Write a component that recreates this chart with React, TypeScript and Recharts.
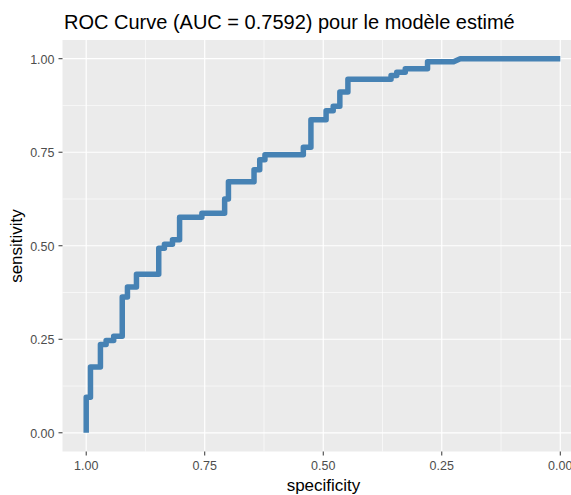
import { LineChart, Line, XAxis, YAxis, CartesianGrid } from 'recharts';

// ROC curve points (specificity, sensitivity), in drawing order
const specificity = [
  1.0, 1.0, 0.991, 0.991, 0.97, 0.97, 0.958, 0.958, 0.942, 0.942, 0.924, 0.924,
  0.913, 0.913, 0.894, 0.894, 0.847, 0.847, 0.835, 0.835, 0.818, 0.818, 0.803,
  0.803, 0.756, 0.756, 0.708, 0.708, 0.7, 0.7, 0.646, 0.646, 0.634, 0.634, 0.623,
  0.623, 0.542, 0.542, 0.526, 0.526, 0.494, 0.494, 0.479, 0.479, 0.465, 0.465,
  0.448, 0.448, 0.357, 0.357, 0.345, 0.345, 0.327, 0.327, 0.28, 0.28, 0.225,
  0.211, 0.0,
];
const sensitivity = [
  0.0, 0.095, 0.095, 0.176, 0.176, 0.236, 0.236, 0.247, 0.247, 0.258, 0.258, 0.363,
  0.363, 0.39, 0.39, 0.424, 0.424, 0.493, 0.493, 0.504, 0.504, 0.516, 0.516,
  0.576, 0.576, 0.587, 0.587, 0.625, 0.625, 0.671, 0.671, 0.703, 0.703, 0.73, 0.73,
  0.743, 0.743, 0.763, 0.763, 0.837, 0.837, 0.861, 0.861, 0.873, 0.873, 0.911,
  0.911, 0.945, 0.945, 0.955, 0.955, 0.964, 0.964, 0.973, 0.973, 0.992, 0.992,
  1.0, 1.0,
];

const xTicks = [1, 0.75, 0.5, 0.25, 0];
const yTicks = [0, 0.25, 0.5, 0.75, 1];
const minorTicks = [0.125, 0.375, 0.625, 0.875];

const title = 'ROC Curve (AUC = 0.7592) pour le modèle estimé';
const xTitle = 'specificity';
const yTitle = 'sensitivity';

const FONT = '"Liberation Sans", Arial, sans-serif';

const data = specificity.map((s, i) => ({ specificity: s, sensitivity: sensitivity[i] }));

const fmt = (v: number) => v.toFixed(2);

function XTick(props: any) {
  const { x, y, payload } = props;
  return (
    <text x={x} y={y} dy={12} textAnchor="middle" fill="#4D4D4D" fontSize={12.5} fontFamily={FONT}>
      {fmt(payload.value)}
    </text>
  );
}

function YTick(props: any) {
  const { x, y, payload } = props;
  return (
    <text x={x} y={y} dy={5} textAnchor="end" fill="#4D4D4D" fontSize={12.5} fontFamily={FONT}>
      {fmt(payload.value)}
    </text>
  );
}

export default function App() {
  return (
    <div style={{ position: 'absolute', left: 0, top: 0, width: 571, height: 495, overflow: 'hidden', background: '#fff' }}>
      <svg width={571} height={36} style={{ position: 'absolute', left: 0, top: 0 }}>
        <text x={64} y={29.3} fontSize={20} fontFamily={FONT} fill="#000">
          {title}
        </text>
      </svg>
      <div style={{ position: 'absolute', left: 0, top: 0 }}>
        <LineChart
          width={600}
          height={495}
          data={data}
          margin={{ top: 40, right: 16, bottom: 0, left: 0 }}
        >
          <CartesianGrid
            stroke="#FFFFFF"
            strokeWidth={0.6}
            fill="#EBEBEB"
            fillOpacity={1}
            horizontalValues={minorTicks}
            verticalValues={minorTicks}
          />
          <CartesianGrid
            stroke="#FFFFFF"
            strokeWidth={1.2}
            horizontalValues={yTicks}
            verticalValues={xTicks}
          />
          <XAxis
            dataKey="specificity"
            type="number"
            domain={[-0.05, 1.05]}
            reversed
            ticks={xTicks}
            interval={0}
            allowDataOverflow
            axisLine={false}
            tickLine={{ stroke: '#333333' }}
            tickSize={4}
            tickMargin={2}
            height={43.5}
            tick={<XTick />}
            label={{
              content: () => (
                <text x={323.5} y={491} textAnchor="middle" fontSize={17} fontFamily={FONT} fill="#000">
                  {xTitle}
                </text>
              ),
            }}
          />
          <YAxis
            type="number"
            domain={[-0.05, 1.05]}
            ticks={yTicks}
            interval={0}
            allowDataOverflow
            axisLine={false}
            tickLine={{ stroke: '#333333' }}
            tickSize={4}
            tickMargin={4}
            width={62.5}
            tick={<YTick />}
            label={{
              content: () => (
                <text
                  x={21.5}
                  y={246}
                  transform="rotate(-90 21.5 246)"
                  textAnchor="middle"
                  fontSize={17}
                  fontFamily={FONT}
                  fill="#000"
                >
                  {yTitle}
                </text>
              ),
            }}
          />
          <Line
            dataKey="sensitivity"
            type="linear"
            stroke="#4682B4"
            strokeWidth={5.5}
            strokeLinejoin="round"
            strokeLinecap="butt"
            dot={false}
            activeDot={false}
            isAnimationActive={false}
          />
        </LineChart>
      </div>
    </div>
  );
}
